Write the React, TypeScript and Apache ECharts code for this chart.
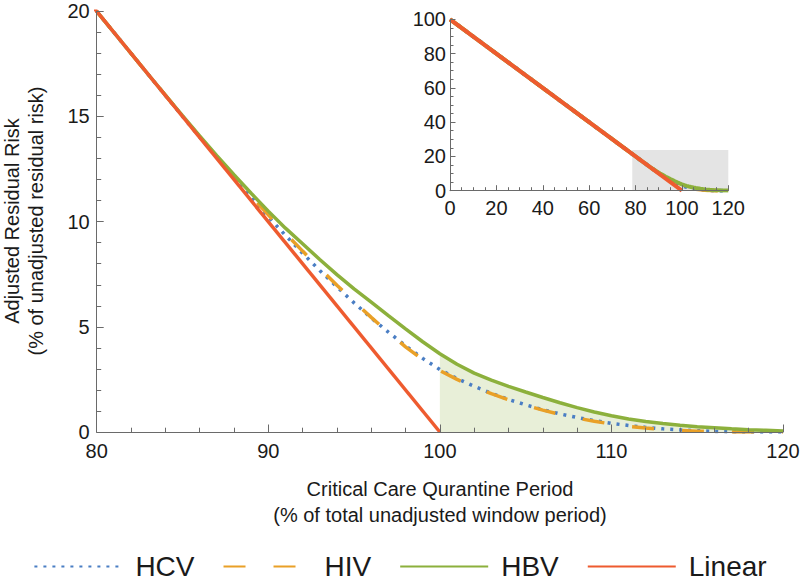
import React, { useEffect, useRef } from "react";
import * as echarts from "echarts";

// ---- data ----
const xs = [80, 81, 82, 83, 84, 85, 86, 87, 88, 89, 90, 91, 92, 93, 94, 95, 96, 97, 98, 99, 100,
  101, 102, 103, 104, 105, 106, 107, 108, 109, 110, 111, 112, 113, 114, 115, 116, 117, 118, 119, 120];
const hcv = [20, 19, 18, 17, 16.0, 15.01, 14.02, 13.05, 12.09, 11.15, 10.23, 9.35, 8.5, 7.68, 6.9, 6.14, 5.42, 4.75, 4.1, 3.5, 2.97,
  2.54, 2.17, 1.84, 1.55, 1.29, 1.06, 0.86, 0.69, 0.54, 0.41, 0.31, 0.22, 0.15, 0.1, 0.06, 0.03, 0.01, 0, 0, 0];
const hiv = [20, 19, 18, 17, 16.01, 15.02, 14.04, 13.08, 12.14, 11.22, 10.32, 9.45, 8.6, 7.78, 6.98, 6.2, 5.45, 4.73, 4.05, 3.44, 2.92,
  2.5, 2.14, 1.82, 1.53, 1.27, 1.04, 0.84, 0.66, 0.51, 0.38, 0.27, 0.19, 0.12, 0.07, 0.04, 0.02, 0, 0, 0, 0];
const hbv = [20, 19, 18, 17, 16.02, 15.04, 14.08, 13.14, 12.23, 11.35, 10.5, 9.69, 8.95, 8.2, 7.48, 6.8, 6.17, 5.53, 4.9, 4.29, 3.72,
  3.22, 2.8, 2.47, 2.17, 1.9, 1.64, 1.39, 1.16, 0.95, 0.77, 0.62, 0.5, 0.4, 0.32, 0.25, 0.2, 0.15, 0.11, 0.08, 0.05];
const linearX = [0, 100];
const linearY = [100, 0];
const shadeFromX = 100;
const insetBoxX = [78.6, 120];
const insetBoxY = [0, 23.7];
const seriesNames = ["HCV", "HIV", "HBV", "Linear"];
const mainXTicks = [80, 90, 100, 110, 120];
const mainYTicks = [0, 5, 10, 15, 20];
const insetXTicks = [0, 20, 40, 60, 80, 100, 120];
const insetYTicks = [0, 20, 40, 60, 80, 100];
const xTitle = ["Critical Care Qurantine Period", "(% of total unadjusted window period)"];
const yTitle = ["Adjusted Residual Risk", "(% of unadjusted residual risk)"];

const FONT = "'Liberation Sans', Arial, Helvetica, sans-serif";
const COLORS: Record<string, string> = {
  HCV: "#4a7ec4",
  HIV: "#e9a027",
  HBV: "#8cb03c",
  Linear: "#ee5b2f",
};
const DASH: Record<string, any> = {
  HCV: [3, 6],
  HIV: [22, 28],
  HBV: "solid",
  Linear: "solid",
};

function pairs(x: number[], y: number[]) {
  return x.map((v, i) => [v, y[i]]);
}

const curves: Record<string, number[]> = { HCV: hcv, HIV: hiv, HBV: hbv };

function axisCommon(ticks: number[], majorLen: number, minorLen: number, margin: number, split: number, fs: number) {
  return {
    type: "value",
    min: ticks[0],
    max: ticks[ticks.length - 1],
    interval: ticks[1] - ticks[0],
    z: 5,
    axisLine: { show: true, onZero: false, lineStyle: { color: "#6a6a6a", width: 1 } },
    axisTick: { show: true, inside: true, length: majorLen, lineStyle: { color: "#6a6a6a", width: 1 } },
    minorTick: { show: true, splitNumber: split, length: minorLen, lineStyle: { color: "#6a6a6a", width: 1 } },
    splitLine: { show: false },
    minorSplitLine: { show: false },
    axisLabel: { margin, fontSize: fs, fontFamily: FONT, color: "#1a1a1a" },
  };
}

export default function App() {
  const ref = useRef<HTMLDivElement>(null);
  useEffect(() => {
    if (!ref.current) return;
    const chart = echarts.init(ref.current, undefined, { renderer: "svg" });

    const series: any[] = [];
    // green shaded area under HBV beyond 100
    series.push({
      name: "HBV area",
      type: "line",
      xAxisIndex: 0,
      yAxisIndex: 0,
      data: pairs(xs, hbv).filter((p) => p[0] >= shadeFromX),
      symbol: "none",
      lineStyle: { width: 0 },
      areaStyle: { color: "#e8efd8", opacity: 1 },
      silent: true,
    });
    // main curves
    seriesNames.forEach((n) => {
      const data = n === "Linear" ? pairs(linearX, linearY) : pairs(xs, curves[n]);
      series.push({
        name: n,
        type: "line",
        xAxisIndex: 0,
        yAxisIndex: 0,
        data,
        symbol: "none",
        color: COLORS[n],
        lineStyle: { color: COLORS[n], width: 3.5, type: DASH[n], cap: "butt" },
        silent: true,
      });
    });
    // inset curves
    seriesNames.forEach((n, idx) => {
      const data =
        n === "Linear"
          ? pairs(linearX, linearY)
          : [[linearX[0], linearY[0]], ...pairs(xs, curves[n])];
      const s: any = {
        name: n,
        type: "line",
        xAxisIndex: 1,
        yAxisIndex: 1,
        data,
        symbol: "none",
        color: COLORS[n],
        lineStyle: { color: COLORS[n], width: 4, type: DASH[n] },
        silent: true,
      };
      if (idx === 0) {
        s.markArea = {
          silent: true,
          itemStyle: { color: "#e4e4e4", opacity: 1 },
          data: [[{ coord: [insetBoxX[0], insetBoxY[1]] }, { coord: [insetBoxX[1], insetBoxY[0]] }]],
        };
      }
      series.push(s);
    });

    chart.setOption({
      animation: false,
      backgroundColor: "#ffffff",
      textStyle: { fontFamily: FONT },
      grid: [
        { left: 96.7, right: 17, top: 11.3, bottom: 151, containLabel: false, outerBoundsMode: "none" },
        { left: 450, right: 71.7, top: 19.3, bottom: 392.3, containLabel: false, outerBoundsMode: "none" },
      ],
      xAxis: [
        { ...axisCommon(mainXTicks, 7.5, 4.3, 9, 5, 20), gridIndex: 0 },
        { ...axisCommon(insetXTicks, 5.5, 3.5, 7, 4, 20), gridIndex: 1 },
      ],
      yAxis: [
        { ...axisCommon(mainYTicks, 7, 4.5, 7, 5, 20), gridIndex: 0 },
        { ...axisCommon(insetYTicks, 5.5, 3.5, 4, 4, 20), gridIndex: 1 },
      ],
      legend: {
        data: seriesNames,
        left: "center",
        top: 547.5,
        itemWidth: 88,
        itemHeight: 20,
        itemGap: 28,
        selectedMode: false,
        itemStyle: { opacity: 0 },
        textStyle: { fontSize: 28, fontFamily: FONT, color: "#1a1a1a", padding: [0, 0, 0, 8] },
      },
      graphic: [
        {
          type: "text",
          x: 11.5,
          y: 221,
          rotation: Math.PI / 2,
          style: { text: yTitle[0], align: "center", verticalAlign: "middle", fontSize: 20, fontFamily: FONT, fill: "#1a1a1a" },
        },
        {
          type: "text",
          x: 36,
          y: 221,
          rotation: Math.PI / 2,
          style: { text: yTitle[1], align: "center", verticalAlign: "middle", fontSize: 20, fontFamily: FONT, fill: "#1a1a1a" },
        },
        {
          type: "text",
          x: 440,
          y: 488.5,
          style: { text: xTitle[0], align: "center", verticalAlign: "middle", fontSize: 20, fontFamily: FONT, fill: "#1a1a1a" },
        },
        {
          type: "text",
          x: 440,
          y: 515,
          style: { text: xTitle[1], align: "center", verticalAlign: "middle", fontSize: 20, fontFamily: FONT, fill: "#1a1a1a" },
        },
      ],
      series,
    });
    return () => chart.dispose();
  }, []);
  return (
    <div
      ref={ref}
      style={{ position: "fixed", left: 0, top: 0, width: 800, height: 583, background: "#fff" }}
    />
  );
}
